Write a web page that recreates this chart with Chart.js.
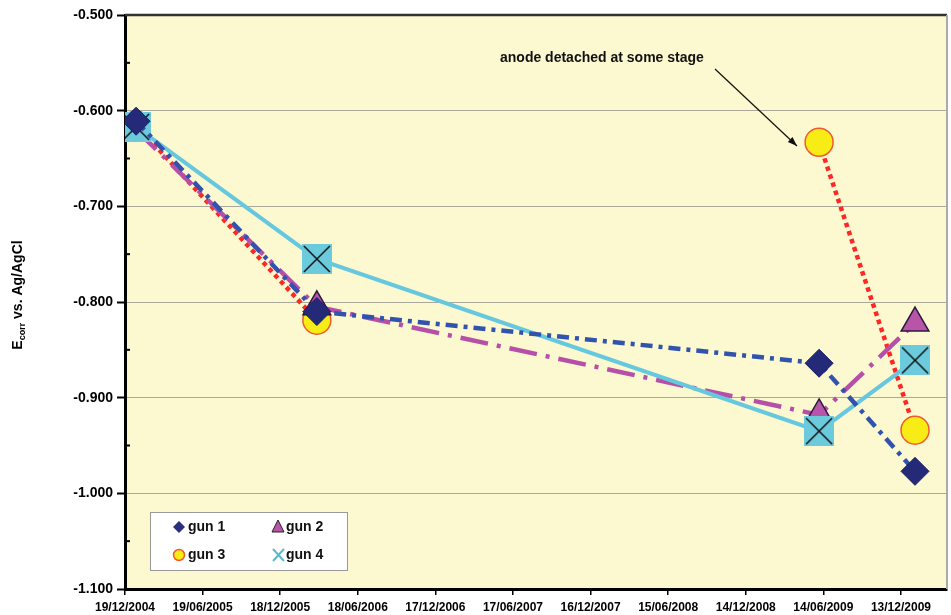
<!DOCTYPE html>
<html>
<head>
<style>
body { margin: 0; background: #fff; }
</style>
</head>
<body>

<canvas id="myChart" width="951" height="615"></canvas>

<script src="https://cdn.jsdelivr.net/npm/chart.js"></script>
<script>
// days after 19/12/2004
const days = [26, 450, 1628, 1853];
const gun1 = [-0.611, -0.810, -0.864, -0.977];
const gun2 = [-0.620, -0.805, -0.918, -0.822];
const gun3 = [-0.615, -0.819, -0.633, -0.934];
const gun4 = [-0.617, -0.755, -0.935, -0.861];
const tickDays = [0, 182, 364, 546, 728, 910, 1092, 1274, 1456, 1638, 1820];
const yTicks = [-1.1, -1.0, -0.9, -0.8, -0.7, -0.6, -0.5];

const FONT = "'Liberation Sans', Arial, sans-serif";
const start = Date.UTC(2004, 11, 19);

function fmtDay(d) {
    const dt = new Date(start + d * 86400000);
    const dd = String(dt.getUTCDate()).padStart(2, '0');
    const mm = String(dt.getUTCMonth() + 1).padStart(2, '0');
    return dd + '/' + mm + '/' + dt.getUTCFullYear();
}

function pts(arr) {
    return arr.map((v, i) => ({x: days[i], y: v}));
}

// square with X marker (gun 4)
function crossBox(size, fill, line) {
    const c = document.createElement('canvas');
    c.width = c.height = size;
    const g = c.getContext('2d');
    g.fillStyle = fill;
    g.fillRect(0, 0, size, size);
    g.strokeStyle = line;
    g.lineWidth = 1.5;
    g.beginPath();
    g.moveTo(2, 2); g.lineTo(size - 2, size - 2);
    g.moveTo(size - 2, 2); g.lineTo(2, size - 2);
    g.stroke();
    return c;
}
const xMarker = crossBox(30, '#6ccadd', '#111');

const extras = {
    id: 'extras',
    beforeDraw(chart) {
        const {ctx, chartArea: a} = chart;
        ctx.save();
        ctx.fillStyle = '#fcf8cf';
        ctx.fillRect(a.left, a.top, a.right - a.left, a.bottom - a.top);
        ctx.restore();
    },
    afterDraw(chart) {
        const {ctx, chartArea: a} = chart;
        const y = chart.scales.y;
        ctx.save();
        // top and right frame
        ctx.strokeStyle = '#333';
        ctx.lineWidth = 2.5;
        ctx.beginPath();
        ctx.moveTo(a.left, a.top); ctx.lineTo(a.right, a.top);
        ctx.stroke();
        ctx.strokeStyle = '#aaa';
        ctx.lineWidth = 2;
        ctx.beginPath();
        ctx.moveTo(a.right, a.top); ctx.lineTo(a.right, a.bottom);
        ctx.stroke();
        // minor ticks
        ctx.strokeStyle = '#000';
        ctx.lineWidth = 2;
        for (let i = 0; i < yTicks.length - 1; i++) {
            const py = y.getPixelForValue((yTicks[i] + yTicks[i + 1]) / 2);
            ctx.beginPath();
            ctx.moveTo(a.left, py); ctx.lineTo(a.left + 5, py);
            ctx.stroke();
        }
        // y title
        ctx.fillStyle = '#000';
        ctx.translate(22, 295);
        ctx.rotate(-Math.PI / 2);
        ctx.font = 'bold 14px ' + FONT;
        const w1 = ctx.measureText('E').width;
        ctx.font = 'bold 9px ' + FONT;
        const w2 = ctx.measureText('corr').width;
        ctx.font = 'bold 14px ' + FONT;
        const w3 = ctx.measureText(' vs. Ag/AgCl').width;
        let x0 = -(w1 + w2 + w3) / 2;
        ctx.textBaseline = 'alphabetic';
        ctx.fillText('E', x0, 0);
        ctx.font = 'bold 9px ' + FONT;
        ctx.fillText('corr', x0 + w1, 3);
        ctx.font = 'bold 14px ' + FONT;
        ctx.fillText(' vs. Ag/AgCl', x0 + w1 + w2, 0);
        ctx.restore();

        // annotation
        ctx.save();
        ctx.font = 'bold 14px ' + FONT;
        ctx.fillStyle = '#111';
        ctx.textBaseline = 'middle';
        ctx.fillText('anode detached at some stage', 500, 58);
        const x1 = 715, y1 = 69, x2 = 797, y2 = 146;
        ctx.strokeStyle = '#111';
        ctx.lineWidth = 1.2;
        ctx.beginPath();
        ctx.moveTo(x1, y1); ctx.lineTo(x2, y2);
        ctx.stroke();
        const ang = Math.atan2(y2 - y1, x2 - x1);
        ctx.beginPath();
        ctx.moveTo(x2, y2);
        ctx.lineTo(x2 - 10 * Math.cos(ang - 0.35), y2 - 10 * Math.sin(ang - 0.35));
        ctx.lineTo(x2 - 10 * Math.cos(ang + 0.35), y2 - 10 * Math.sin(ang + 0.35));
        ctx.closePath();
        ctx.fillStyle = '#111';
        ctx.fill();
        ctx.restore();

        // legend box
        ctx.save();
        ctx.fillStyle = '#fff';
        ctx.strokeStyle = '#999';
        ctx.lineWidth = 1;
        ctx.fillRect(150, 512, 197, 58);
        ctx.strokeRect(150.5, 512.5, 197, 58);
        ctx.font = 'bold 14px ' + FONT;
        ctx.fillStyle = '#111';
        ctx.textBaseline = 'middle';
        ctx.fillText('gun 1', 188, 527);
        ctx.fillText('gun 2', 286, 527);
        ctx.fillText('gun 3', 188, 555);
        ctx.fillText('gun 4', 286, 555);
        // diamond
        ctx.fillStyle = '#2a2f80';
        ctx.beginPath();
        ctx.moveTo(179, 521); ctx.lineTo(185, 527); ctx.lineTo(179, 533); ctx.lineTo(173, 527);
        ctx.closePath(); ctx.fill();
        // triangle
        ctx.fillStyle = '#b955a8';
        ctx.strokeStyle = '#222';
        ctx.beginPath();
        ctx.moveTo(278, 520); ctx.lineTo(284, 532); ctx.lineTo(272, 532);
        ctx.closePath(); ctx.fill(); ctx.stroke();
        // circle
        ctx.fillStyle = '#f7ec16';
        ctx.strokeStyle = '#f05a30';
        ctx.lineWidth = 1.5;
        ctx.beginPath();
        ctx.arc(179, 555, 5.5, 0, Math.PI * 2);
        ctx.fill(); ctx.stroke();
        // x
        ctx.strokeStyle = '#5bb8cc';
        ctx.lineWidth = 2;
        ctx.beginPath();
        ctx.moveTo(273, 549); ctx.lineTo(284, 561);
        ctx.moveTo(284, 549); ctx.lineTo(273, 561);
        ctx.stroke();
        ctx.restore();
    }
};

const ctx = document.getElementById('myChart').getContext('2d');
const myChart = new Chart(ctx, {
    type: 'line',
    data: {
        datasets: [
            {
                label: 'gun 1',
                data: pts(gun1),
                borderColor: '#3253ad',
                borderWidth: 4.5,
                borderDash: [12, 6, 4, 6],
                pointStyle: 'rectRot',
                pointRadius: 14,
                pointBackgroundColor: '#242a78',
                pointBorderColor: '#1a1f66',
                pointBorderWidth: 1,
                order: 1
            },
            {
                label: 'gun 2',
                data: pts(gun2),
                borderColor: '#b54fa8',
                borderWidth: 4.5,
                borderDash: [28, 9, 4, 9],
                pointStyle: 'triangle',
                pointRadius: 16,
                pointBackgroundColor: '#b955a8',
                pointBorderColor: '#2a1a40',
                pointBorderWidth: 1.5,
                order: 3
            },
            {
                label: 'gun 3',
                data: pts(gun3),
                borderColor: '#ff2626',
                borderWidth: 4.5,
                borderDash: [4.5, 4],
                // no line between the 2nd and 3rd reading (anode detached)
                segment: {
                    borderColor: c => c.p0DataIndex === 1 ? 'rgba(0,0,0,0)' : undefined
                },
                pointStyle: 'circle',
                pointRadius: 14,
                pointBackgroundColor: '#f7ec16',
                pointBorderColor: '#f05a30',
                pointBorderWidth: 1.5,
                order: 4
            },
            {
                label: 'gun 4',
                data: pts(gun4),
                borderColor: '#66c8df',
                borderWidth: 4,
                pointStyle: xMarker,
                pointRadius: 15,
                order: 2
            }
        ]
    },
    options: {
        responsive: false,
        animation: false,
        layout: { autoPadding: false, padding: { top: 15, right: 4, left: 0, bottom: 0 } },
        plugins: {
            legend: { display: false },
            tooltip: { enabled: false }
        },
        elements: { line: { tension: 0 } },
        scales: {
            x: {
                type: 'linear',
                min: 0,
                max: 1928,
                afterBuildTicks: s => { s.ticks = tickDays.map(v => ({value: v})); },
                afterFit: s => { s.height = 26; s.paddingLeft = 0; s.paddingRight = 0; },
                ticks: {
                    callback: v => fmtDay(v),
                    autoSkip: false,
                    maxRotation: 0,
                    padding: 5,
                    color: '#000',
                    font: { family: FONT, size: 12, weight: 'bold' }
                },
                grid: { drawOnChartArea: false, tickLength: 6, color: '#000', lineWidth: 1.5 },
                border: { color: '#000', width: 3 }
            },
            y: {
                min: -1.1,
                max: -0.5,
                afterBuildTicks: s => { s.ticks = yTicks.map(v => ({value: v})); },
                afterFit: s => { s.width = 125; s.paddingTop = 0; s.paddingBottom = 0; },
                ticks: {
                    callback: v => v.toFixed(3),
                    padding: 4,
                    color: '#000',
                    font: { family: FONT, size: 14, weight: 'bold' }
                },
                grid: { color: '#aaa89a', lineWidth: 1, tickLength: 8, tickColor: '#000', tickWidth: 2 },
                border: { color: '#000', width: 3 }
            }
        }
    },
    plugins: [extras]
});
</script>

</body>
</html>
